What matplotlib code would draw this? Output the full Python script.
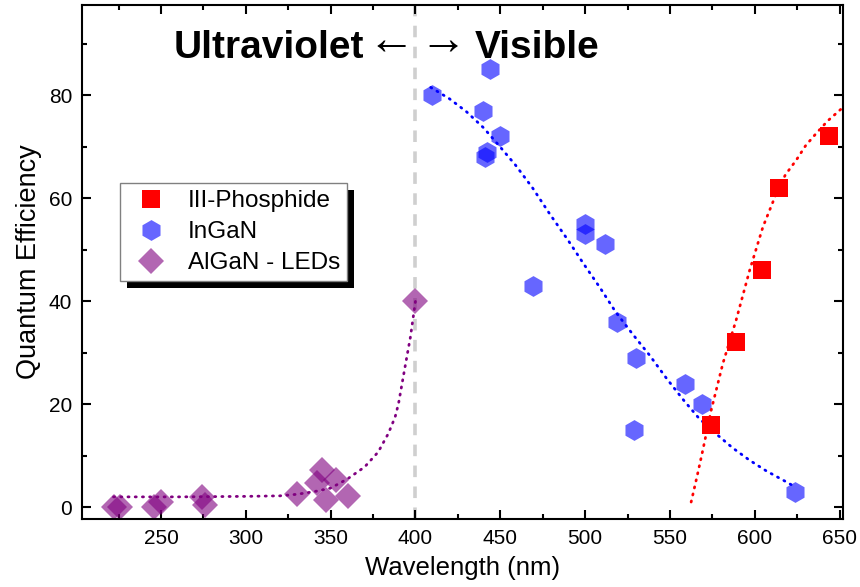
import matplotlib
matplotlib.use("Agg")
import matplotlib.pyplot as plt
from matplotlib.patches import Rectangle
from matplotlib.ticker import MultipleLocator

plt.rcParams['font.family'] = ['Liberation Sans', 'DejaVu Sans']

# III-Phosphide LEDs
phos_wl = [574, 589, 604, 614, 644]
phos_qe = [16, 32, 46, 62, 72]
phos_fit_wl = [562.5, 566, 569.4, 574.3, 581.2, 589, 597, 604.8, 612.7, 618, 624.5, 630, 636.3, 643, 650.2, 652]
phos_fit_qe = [1.0, 6.0, 11.1, 18.8, 27.9, 36.3, 46.0, 54.4, 60.9, 64.5, 67.4, 70.2, 72.6, 75.0, 77.1, 77.6]

# InGaN LEDs
ingan_wl = [410, 440, 441, 442, 444, 450, 469, 500, 500, 512, 519, 529, 530, 559, 569, 624]
ingan_qe = [80, 77, 68, 69, 85, 72, 43, 55, 53, 51, 36, 15, 29, 24, 20, 3]
ingan_fit_wl = [409, 420, 430, 440, 449, 459, 469, 479, 490, 499, 509, 518, 528, 538, 548, 558, 567, 577, 587, 597, 607, 617, 624]
ingan_fit_qe = [81.5, 79.3, 76.8, 73.7, 70.3, 66.4, 62.0, 57.0, 51.8, 47.3, 42.5, 37.9, 33.6, 29.5, 25.0, 20.8, 17.3, 14.3, 11.5, 9.1, 7.0, 5.2, 3.9]

# AlGaN LEDs
algan_wl = [222, 226, 246, 250, 274, 276, 330, 342, 345, 347, 353, 360, 400]
algan_qe = [0, 0, 0, 1, 2, 0.5, 2.5, 4.6, 7.2, 1.4, 5.2, 2.2, 40]
algan_fit_wl = [222, 260, 300, 320, 330, 340, 350, 360, 370, 378, 384, 388, 390, 393.5, 397, 400]
algan_fit_qe = [2.0, 2.0, 2.1, 2.2, 2.5, 3.0, 3.7, 5.5, 7.8, 10.7, 14.3, 17.5, 20.1, 26.6, 33.0, 40.0]

dotted = (0, (0.4, 2.2))

fig = plt.figure(figsize=(8.6, 5.87), dpi=100)
ax = fig.add_axes([0.0953, 0.1158, 0.8849, 0.8757])

ax.axvline(400, color='#cfcfcf', lw=2.6, ls=(0, (3.2, 2.6)), zorder=1)

ax.plot(algan_wl, algan_qe, ls='none', marker='D', ms=13.5, mew=0,
        color='purple', alpha=0.6, label='AlGaN - LEDs', zorder=2)
ax.plot(algan_fit_wl, algan_fit_qe, color='purple', lw=2.0, ls=dotted,
        dash_capstyle='round', zorder=3)

ax.plot(ingan_wl, ingan_qe, ls='none', marker='h', ms=15, mew=0,
        color='blue', alpha=0.6, label='InGaN', zorder=2)
ax.plot(ingan_fit_wl, ingan_fit_qe, color='blue', lw=2.0, ls=dotted,
        dash_capstyle='round', zorder=3)

ax.plot(phos_wl, phos_qe, ls='none', marker='s', ms=12.5, mew=0,
        color='red', label='III-Phosphide', zorder=4)
ax.plot(phos_fit_wl, phos_fit_qe, color='red', lw=2.0, ls=dotted,
        dash_capstyle='round', zorder=4)

ax.set_xlim(203.4, 652)
ax.set_ylim(-2.3, 97.5)
ax.xaxis.set_major_locator(MultipleLocator(50))
ax.xaxis.set_minor_locator(MultipleLocator(25))
ax.yaxis.set_major_locator(MultipleLocator(20))
ax.yaxis.set_minor_locator(MultipleLocator(10))
ax.tick_params(which='both', direction='in', top=True, right=True, width=1.5,
               labelsize=15)
ax.tick_params(which='major', length=6.5, pad=7)
ax.tick_params(which='minor', length=3.6)
for sp in ax.spines.values():
    sp.set_linewidth(1.5)

ax.set_xlabel('Wavelength (nm)', fontsize=18.5, labelpad=6)
ax.set_ylabel('Quantum Efficiency', fontsize=19.5, labelpad=5)

# region labels either side of 400 nm
ax.text(369.8, 87.2, 'Ultraviolet', ha='right', va='baseline', fontsize=28,
        fontweight='bold')
ax.text(385.3, 87.9, '\u2190', ha='center', va='baseline', fontsize=34)
ax.text(416.3, 87.9, '\u2192', ha='center', va='baseline', fontsize=34)
ax.text(434.7, 87.2, 'Visible', ha='left', va='baseline', fontsize=28,
        fontweight='bold')

handles, labels = ax.get_legend_handles_labels()
order = [2, 1, 0]
leg = ax.legend([handles[i] for i in order], [labels[i] for i in order],
                loc='upper left', bbox_to_anchor=(0.05, 0.654), borderaxespad=0,
                numpoints=1, fontsize=17.5, frameon=True, fancybox=False,
                framealpha=1, edgecolor='#808080', handlelength=1.98,
                handletextpad=0.5, borderpad=0.3, labelspacing=0.37)
leg.get_frame().set_linewidth(1.0)
for h in leg.legend_handles:
    h.set_alpha(0.6 if h.get_marker() != 's' else 1)

# solid black drop shadow behind the legend box
fig.canvas.draw()
bb = leg.get_frame().get_window_extent()
inv = ax.transAxes.inverted()
(x0, y0), (x1, y1) = inv.transform([[bb.x0 + 7, bb.y0 - 7], [bb.x1 + 7, bb.y1 - 7]])
ax.add_patch(Rectangle((x0, y0), x1 - x0, y1 - y0, transform=ax.transAxes,
                       facecolor='black', edgecolor='none', zorder=4.5,
                       clip_on=False))

fig.savefig('out.png', dpi=100)
